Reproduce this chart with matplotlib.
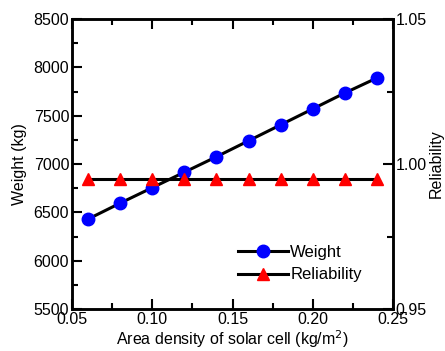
import numpy as np
import matplotlib.pyplot as plt

plt.rcParams['font.family'] = ['Liberation Sans', 'DejaVu Sans']

# data
density = [0.06, 0.08, 0.10, 0.12, 0.14, 0.16, 0.18, 0.20, 0.22, 0.24]
weight = [6430, 6595, 6755, 6915, 7075, 7240, 7405, 7570, 7735, 7890]
reliability = [0.995] * 10

fig = plt.figure(figsize=(4.45, 3.51), dpi=100)
ax = fig.add_axes([72 / 445, 1 - 309 / 351, 321 / 445, 290 / 351])
ax2 = ax.twinx()

l1, = ax.plot(density, weight, color='black', lw=2.2, marker='o', ms=9,
              mfc='blue', mec='blue', label='Weight')
l2, = ax2.plot(density, reliability, color='black', lw=2.2, marker='^', ms=9,
               mfc='red', mec='red', label='Reliability')

ax.set_xlim(0.05, 0.25)
ax.set_ylim(5500, 8500)
ax2.set_ylim(0.95, 1.05)
ax.set_xticks([0.05, 0.10, 0.15, 0.20, 0.25])
ax.set_xticklabels(['0.05', '0.10', '0.15', '0.20', '0.25'])
ax.set_xticks(np.arange(0.075, 0.25, 0.05), minor=True)
ax.set_yticks(np.arange(5500, 8501, 500))
ax.set_yticks(np.arange(5750, 8500, 500), minor=True)
ax2.set_yticks([0.95, 1.00, 1.05])
ax2.set_yticklabels(['0.95', '1.00', '1.05'])
ax2.set_yticks([0.975, 1.025], minor=True)

ax.tick_params(which='both', direction='in', top=True, right=False,
               labelsize=11.5, width=1.5, pad=2)
ax.tick_params(which='major', length=7)
ax.tick_params(which='minor', length=4)
ax2.tick_params(which='both', direction='in', labelsize=11.5, width=1.5, pad=2)
ax2.tick_params(which='major', length=7)
ax2.tick_params(which='minor', length=4)
for a in (ax, ax2):
    for s in a.spines.values():
        s.set_linewidth(1.8)

ax.set_xlabel('Area density of solar cell (kg/m$^2$)', fontsize=11.5, labelpad=1)
ax.set_ylabel('Weight (kg)', fontsize=11.5, labelpad=5)
ax2.set_ylabel('Reliability', fontsize=11.5, labelpad=1)

ax.legend(handles=[l1, l2], loc='lower right', bbox_to_anchor=(0.95, 0.04),
          frameon=False, fontsize=12, handlelength=3.0, handletextpad=0.15,
          labelspacing=0.45)

fig.savefig('out.png', dpi=100)
